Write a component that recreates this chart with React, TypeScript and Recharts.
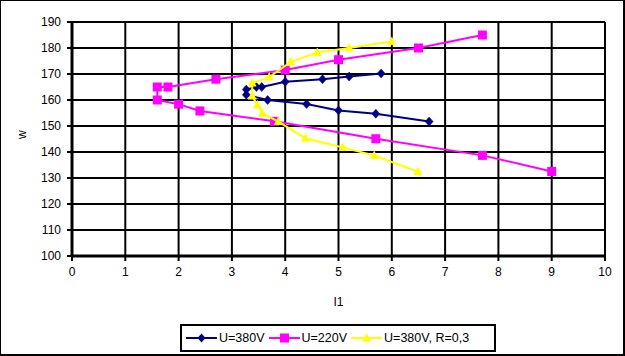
import React from 'react';
import { ScatterChart, Scatter, XAxis, YAxis, CartesianGrid } from 'recharts';

const xTicks = [0, 1, 2, 3, 4, 5, 6, 7, 8, 9, 10];
const yTicks = [100, 110, 120, 130, 140, 150, 160, 170, 180, 190];

const seriesNames = ['U=380V', 'U=220V', 'U=380V, R=0,3'];

const u380I = [5.8, 5.2, 4.7, 4.0, 3.56, 3.46, 3.27, 3.27, 3.67, 4.4, 5.0, 5.7, 6.7];
const u380W = [170.2, 169, 168, 167, 165, 165, 164, 162, 160, 158.5, 156, 154.7, 151.7];

const u220I = [7.7, 6.5, 5.0, 4.0, 2.7, 1.8, 1.6, 1.6, 2.0, 2.4, 3.8, 5.7, 7.7, 9.0];
const u220W = [185, 180, 175.5, 171.5, 168, 165, 165, 160, 158.4, 155.8, 151.8, 145.1, 138.7, 132.5];

const r03I = [6.0, 5.2, 4.6, 4.1, 3.7, 3.38, 3.38, 3.48, 3.57, 3.87, 4.38, 5.08, 5.67, 6.49];
const r03W = [182.5, 180, 178.3, 174.6, 168.8, 166.5, 161.5, 158.1, 154.9, 151.7, 145.3, 141.7, 138.7, 132.4];

const zip = (xs: number[], ys: number[]) => xs.map((x, i) => ({ x, y: ys[i] }));

const d380 = zip(u380I, u380W);
const d220 = zip(u220I, u220W);
const dR03 = zip(r03I, r03W);

const NAVY = '#000080';
const PINK = '#FF00FF';
const YELLOW = '#FFFF00';
const FONT = '"Liberation Sans", Arial, sans-serif';

const Diamond = (p: any) => {
  const { cx, cy } = p;
  return <path d={`M${cx},${cy - 4.5}L${cx + 4},${cy}L${cx},${cy + 4.5}L${cx - 4},${cy}Z`} fill={NAVY} stroke={NAVY} strokeWidth={0.5} />;
};
const Square = (p: any) => {
  const { cx, cy } = p;
  return <rect x={cx - 4.5} y={cy - 4.5} width={9} height={9} fill={PINK} />;
};
const Triangle = (p: any) => {
  const { cx, cy } = p;
  return <path d={`M${cx},${cy - 5}L${cx + 4.5},${cy + 3.5}L${cx - 4.5},${cy + 3.5}Z`} fill={YELLOW} />;
};

const tickStyle = { fill: '#000', fontSize: 12, fontFamily: FONT };

const LegendItem = ({ color, marker, label }: { color: string; marker: string; label: string }) => (
  <div style={{ display: 'flex', alignItems: 'center', marginRight: 4 }}>
    <svg width={31} height={12} style={{ display: 'block' }}>
      <line x1={0} y1={6} x2={31} y2={6} stroke={color} strokeWidth={2} />
      {marker === 'diamond' && <path d="M15.5,1.5L19.5,6L15.5,10.5L11.5,6Z" fill={color} />}
      {marker === 'square' && <rect x={11} y={1.5} width={9} height={9} fill={color} />}
      {marker === 'triangle' && <path d="M15.5,1L20,9.5L11,9.5Z" fill={color} />}
    </svg>
    <span style={{ marginLeft: 2, fontSize: 12.5, fontFamily: FONT, color: '#000' }}>{label}</span>
  </div>
);

export default function App() {
  return (
    <div
      style={{
        position: 'absolute',
        left: 0,
        top: 0,
        width: 625,
        height: 356,
        background: '#fff',
        boxSizing: 'border-box',
        borderLeft: '1px solid #000',
        borderTop: '1px solid #000',
        borderRight: '2px solid #000',
        borderBottom: '2px solid #000',
        overflow: 'hidden',
      }}
    >
      <div style={{ position: 'absolute', left: -1, top: -1 }}>
        <ScatterChart width={625} height={356} margin={{ top: 22, right: 20, bottom: 0, left: 0 }}>
          <CartesianGrid stroke="#000" strokeWidth={2} horizontalValues={yTicks} verticalValues={xTicks} />
          <XAxis
            type="number"
            dataKey="x"
            domain={[0, 10]}
            ticks={xTicks}
            interval={0}
            height={100}
            stroke="#000"
            strokeWidth={3}
            tickSize={5}
            tickMargin={6}
            tick={tickStyle}
            tickLine={{ stroke: '#000', strokeWidth: 2 }}
            label={{ value: 'I1', position: 'insideTop', offset: 41, fill: '#000', fontSize: 12, fontFamily: FONT }}
          />
          <YAxis
            type="number"
            dataKey="y"
            domain={[100, 190]}
            ticks={yTicks}
            interval={0}
            width={72}
            stroke="#000"
            strokeWidth={3}
            tickSize={5}
            tickMargin={6}
            tick={tickStyle}
            tickLine={{ stroke: '#000', strokeWidth: 2 }}
            label={{ value: 'w', angle: -90, position: 'insideLeft', offset: 22, fill: '#000', fontSize: 12, fontFamily: FONT }}
          />
          <Scatter
            name={seriesNames[0]}
            data={d380}
            line={{ stroke: NAVY, strokeWidth: 2 }}
            lineType="joint"
            shape={Diamond}
            fill={NAVY}
            isAnimationActive={false}
          />
          <Scatter
            name={seriesNames[1]}
            data={d220}
            line={{ stroke: PINK, strokeWidth: 2 }}
            lineType="joint"
            shape={Square}
            fill={PINK}
            isAnimationActive={false}
          />
          <Scatter
            name={seriesNames[2]}
            data={dR03}
            line={{ stroke: YELLOW, strokeWidth: 2 }}
            lineType="joint"
            shape={Triangle}
            fill={YELLOW}
            isAnimationActive={false}
          />
        </ScatterChart>
      </div>
      <div
        style={{
          position: 'absolute',
          left: 179,
          top: 323,
          width: 316,
          height: 28,
          boxSizing: 'border-box',
          border: '2px solid #000',
          display: 'flex',
          alignItems: 'center',
          paddingLeft: 4,
          background: '#fff',
        }}
      >
        <LegendItem color={NAVY} marker="diamond" label={seriesNames[0]} />
        <LegendItem color={PINK} marker="square" label={seriesNames[1]} />
        <LegendItem color={YELLOW} marker="triangle" label={seriesNames[2]} />
      </div>
    </div>
  );
}
